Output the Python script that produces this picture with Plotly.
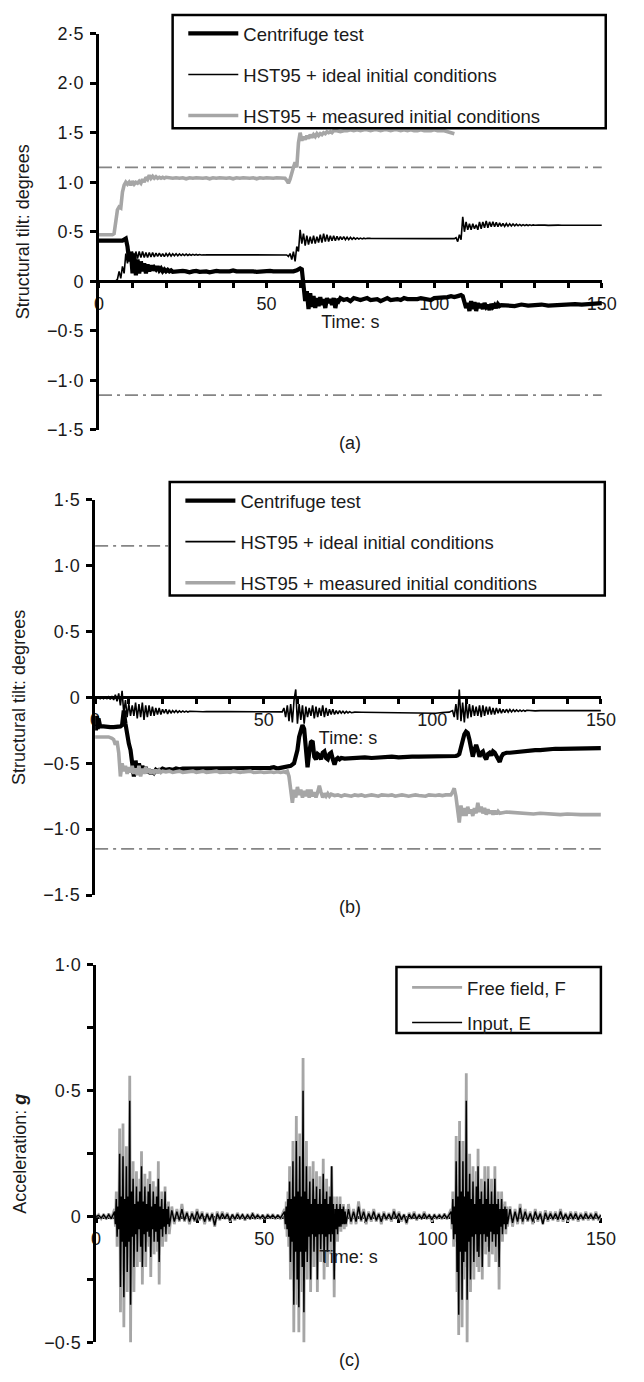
import plotly.graph_objects as go

W, H = 644, 1382
FONT = "Liberation Sans, Arial, Helvetica, sans-serif"
INK = "#1a1a1a"
GREY = "#a6a6a6"
LIMIT_GREY = "#858585"

# ---------------------------------------------------------------- tick data
X_RANGE = [0, 150]
X_TICKS = [0, 50, 100, 150]
X_TICK_TEXT = ["0", "50", "100", "150"]
X_MINOR = [10, 20, 30, 40, 60, 70, 80, 90, 110, 120, 130, 140]

TILT_A_TICKS = [2.5, 2.0, 1.5, 1.0, 0.5, 0, -0.5, -1.0, -1.5]
TILT_A_TEXT = ["2·5", "2·0", "1·5", "1·0", "0·5", "0", "−0·5", "−1·0", "−1·5"]
TILT_B_TICKS = [1.5, 1.0, 0.5, 0, -0.5, -1.0, -1.5]
TILT_B_TEXT = ["1·5", "1·0", "0·5", "0", "−0·5", "−1·0", "−1·5"]
ACC_TICKS = [1.0, 0.5, 0, -0.5]
ACC_TEXT = ["1·0", "0·5", "0", "−0·5"]
ACC_MINOR = [0.75, 0.25, -0.25]

TILT_LIMIT = 1.15  # serviceability limit, degrees

# ------------------------------------------------ time histories
# each series: list of (start time [s], sample step [s], values)

# (a) structural tilt, degrees
A_CENTRIFUGE = [
    (0.0, 1.0, [0.41, 0.41, 0.41, 0.41, 0.41, 0.405, 0.40, 0.41, 0.43]),
    (8.5, 0.5, [0.35, 0.2, 0.3, 0.08, 0.28, 0.06, 0.22, 0.08, 0.2, 0.1, 0.18, 0.08, 0.17, 0.1,
                0.16, 0.11, 0.14, 0.12, 0.15, 0.11, 0.13, 0.1, 0.12, 0.1, 0.115, 0.1, 0.11, 0.095]),
    (23.0, 1.0, [0.1, 0.095, 0.105, 0.1, 0.09, 0.1, 0.105, 0.095, 0.1, 0.1, 0.09, 0.1, 0.105,
                 0.1, 0.095, 0.1, 0.1, 0.11, 0.1, 0.095, 0.1, 0.1, 0.105, 0.1, 0.095, 0.1, 0.1,
                 0.1, 0.105, 0.1, 0.1, 0.095, 0.1, 0.1, 0.1, 0.1, 0.11]),
    (60.0, 0.5, [0.13, 0.12, -0.05, -0.2, -0.1, -0.28, -0.12, -0.26, -0.15, -0.27, -0.17, -0.25,
                 -0.16, -0.24, -0.18, -0.27, -0.17, -0.22, -0.18, -0.24, -0.17, -0.27, -0.18,
                 -0.2, -0.17]),
    (73.0, 1.0, [-0.19, -0.18, -0.2, -0.17, -0.18, -0.19, -0.18, -0.17, -0.19, -0.18, -0.18,
                 -0.2, -0.18, -0.17, -0.19, -0.18, -0.18, -0.19, -0.17, -0.18, -0.18, -0.19,
                 -0.18, -0.17, -0.18, -0.18, -0.19, -0.17, -0.17, -0.16, -0.17, -0.16, -0.15,
                 -0.16, -0.15]),
    (108.0, 0.5, [-0.14, -0.15, -0.2, -0.27, -0.22, -0.3, -0.2, -0.28, -0.21, -0.3, -0.22,
                  -0.27, -0.23, -0.28, -0.22, -0.26, -0.24, -0.29, -0.23, -0.26, -0.24, -0.27,
                  -0.23, -0.25, -0.24]),
    (122.0, 2.0, [-0.245, -0.25, -0.235, -0.245, -0.24, -0.235, -0.245, -0.24, -0.235, -0.24,
                  -0.23, -0.235, -0.23, -0.225, -0.22]),
]

A_IDEAL = [
    (0.0, 1.0, [0.0, 0.0, 0.0, 0.0, 0.0, 0.005]),
    (5.5, 0.5, [0.02, 0.1, 0.03, 0.15, 0.08, 0.28, 0.18, 0.32, 0.2, 0.3, 0.22, 0.3, 0.23, 0.3,
                0.24, 0.3, 0.24, 0.29, 0.24, 0.29, 0.245, 0.29, 0.245, 0.285, 0.25, 0.285, 0.25,
                0.28, 0.25, 0.28, 0.255, 0.28, 0.255, 0.278, 0.257, 0.277, 0.258, 0.276, 0.26,
                0.275, 0.26, 0.274, 0.261, 0.273, 0.262, 0.272, 0.263, 0.271, 0.264, 0.27,
                0.265, 0.269, 0.266, 0.268]),
    (33.0, 1.0, [0.268, 0.266, 0.268, 0.266, 0.267, 0.266, 0.267, 0.266, 0.267, 0.266, 0.267,
                 0.266, 0.266, 0.266, 0.266, 0.266, 0.266, 0.266, 0.266, 0.266, 0.266, 0.266,
                 0.265, 0.265]),
    (56.5, 0.5, [0.25, 0.28, 0.22, 0.3, 0.2, 0.35, 0.3, 0.52, 0.38, 0.48, 0.36, 0.46, 0.37,
                 0.45, 0.38, 0.46, 0.38, 0.45, 0.39, 0.47, 0.39, 0.48, 0.4, 0.47, 0.4, 0.46,
                 0.41, 0.46, 0.41, 0.455, 0.415, 0.45, 0.42, 0.45, 0.42, 0.445, 0.42, 0.443,
                 0.423, 0.44, 0.425, 0.438, 0.427, 0.436, 0.428, 0.435, 0.43, 0.434]),
    (81.0, 2.0, [0.433, 0.432, 0.432, 0.431, 0.432, 0.432, 0.431, 0.432, 0.432, 0.431, 0.432,
                 0.432, 0.432]),
    (106.0, 0.5, [0.43, 0.44, 0.4, 0.47, 0.42, 0.65, 0.5, 0.6, 0.52, 0.58, 0.52, 0.58, 0.53,
                  0.57, 0.52, 0.6, 0.53, 0.6, 0.54, 0.61, 0.54, 0.6, 0.55, 0.6, 0.55, 0.595,
                  0.55, 0.59, 0.555, 0.585, 0.555, 0.583, 0.557, 0.58, 0.558, 0.578, 0.56,
                  0.576, 0.56, 0.574, 0.561, 0.572, 0.562, 0.571, 0.563, 0.57, 0.564, 0.569,
                  0.565]),
    (131.0, 1.0, [0.568, 0.564, 0.567, 0.564, 0.567, 0.565, 0.567, 0.565, 0.566, 0.565, 0.566,
                  0.565, 0.566, 0.565, 0.566, 0.565, 0.566, 0.565, 0.566, 0.565]),
]

A_MEASURED = [
    (0.0, 1.0, [0.47, 0.47, 0.465, 0.47, 0.47]),
    (4.5, 0.5, [0.48, 0.6, 0.72, 0.75, 0.74, 0.9, 0.97, 1.0, 0.98, 1.0, 0.97, 1.01, 0.98, 1.0,
                0.99, 1.01, 0.99, 1.03, 1.0, 1.05, 1.03, 1.07, 1.04, 1.06, 1.04, 1.055, 1.04,
                1.05, 1.04, 1.05, 1.04, 1.05]),
    (21.0, 1.0, [1.045, 1.04, 1.045, 1.04, 1.045, 1.035, 1.045, 1.04, 1.045, 1.04, 1.04, 1.045,
                 1.035, 1.045, 1.04, 1.045, 1.04, 1.04, 1.045, 1.035, 1.045, 1.04, 1.045, 1.04,
                 1.04, 1.045, 1.035, 1.045, 1.04, 1.045, 1.04, 1.04, 1.045, 1.04, 1.04]),
    (55.5, 0.5, [1.04, 1.02, 0.99, 1.03, 1.1, 1.15, 1.2, 1.15, 1.4, 1.5, 1.42, 1.46, 1.43, 1.47,
                 1.44, 1.48, 1.45, 1.48, 1.46, 1.49, 1.47, 1.49, 1.48, 1.5, 1.49, 1.51, 1.5,
                 1.51, 1.5, 1.52]),
    (71.0, 1.0, [1.52, 1.51, 1.52, 1.52, 1.53, 1.52, 1.53, 1.52, 1.53, 1.53, 1.52, 1.53, 1.53,
                 1.52, 1.53, 1.53, 1.52, 1.53, 1.53, 1.52, 1.53, 1.52, 1.53, 1.52, 1.52, 1.53,
                 1.52, 1.52, 1.52, 1.53, 1.52, 1.52, 1.52, 1.51, 1.5, 1.49]),
]

# (b) structural tilt, degrees
B_CENTRIFUGE = [
    (0.0, 0.25, [-0.15, -0.25, -0.14, -0.24, -0.16, -0.22]),
    (1.5, 1.0, [-0.22, -0.22, -0.225, -0.225, -0.225, -0.225, -0.22]),
    (8.0, 0.5, [-0.21, -0.1, -0.2, -0.3, -0.35, -0.4, -0.5, -0.6, -0.48, -0.58, -0.5, -0.57,
                -0.52, -0.56, -0.53, -0.57, -0.55, -0.58, -0.55, -0.57, -0.55, -0.56, -0.55,
                -0.55, -0.54]),
    (21.0, 1.0, [-0.55, -0.545, -0.55, -0.54, -0.545, -0.54, -0.54, -0.535, -0.54, -0.535,
                 -0.54, -0.535, -0.54, -0.54, -0.535, -0.54, -0.54, -0.535, -0.54, -0.54,
                 -0.535, -0.54, -0.54, -0.535, -0.54, -0.54, -0.535, -0.54, -0.54, -0.535,
                 -0.54, -0.535, -0.53, -0.54, -0.535, -0.53, -0.53, -0.52, -0.5]),
    (59.5, 0.5, [-0.45, -0.4, -0.3, -0.25, -0.21, -0.24, -0.4, -0.53, -0.42, -0.34, -0.33,
                 -0.45, -0.47, -0.43, -0.44, -0.47, -0.42, -0.41, -0.46, -0.47, -0.43, -0.42,
                 -0.47, -0.51, -0.47, -0.46, -0.47, -0.46]),
    (74.0, 2.0, [-0.465, -0.46, -0.46, -0.455, -0.46, -0.455, -0.455, -0.45, -0.455, -0.45,
                 -0.45, -0.45, -0.45, -0.445, -0.45, -0.445, -0.445]),
    (107.0, 0.5, [-0.445, -0.44, -0.43, -0.38, -0.32, -0.28, -0.26, -0.27, -0.32, -0.4, -0.45,
                  -0.4, -0.36, -0.4, -0.45, -0.42, -0.41, -0.45, -0.47, -0.43, -0.42, -0.44,
                  -0.41, -0.42, -0.44, -0.47, -0.49, -0.45, -0.43, -0.425, -0.42]),
    (123.0, 1.5, [-0.42, -0.415, -0.41, -0.41, -0.405, -0.4, -0.4, -0.395, -0.395, -0.39,
                  -0.39, -0.39, -0.385, -0.39, -0.385, -0.385, -0.385, -0.385, -0.385]),
]

B_IDEAL = [
    (0.0, 0.5, [0.0, -0.005, 0.0, -0.01, 0.0, -0.01, 0.0, -0.01, 0.005, -0.015, 0.01, -0.02,
                0.02, -0.03, 0.03, -0.06, 0.05, -0.12, -0.02, -0.15, -0.05, -0.14]),
    (11.0, 0.5, [-0.06, -0.14, -0.04, -0.16, -0.05, -0.15, -0.04, -0.17, -0.06, -0.15, -0.06,
                 -0.14, -0.07, -0.14, -0.08, -0.13, -0.08, -0.13, -0.09, -0.12, -0.09, -0.125,
                 -0.095, -0.12, -0.1, -0.115, -0.1, -0.115, -0.102, -0.113, -0.103, -0.112,
                 -0.104, -0.111, -0.105]),
    (29.0, 1.0, [-0.107, -0.109, -0.107, -0.109, -0.108, -0.109, -0.108, -0.109, -0.108,
                 -0.108, -0.108, -0.108, -0.108, -0.108, -0.108, -0.109, -0.109, -0.109,
                 -0.109, -0.109, -0.11, -0.11, -0.11, -0.11, -0.11, -0.11, -0.11]),
    (55.5, 0.5, [-0.11, -0.08, -0.15, -0.06, -0.18, -0.05, -0.19, -0.02, 0.06, -0.2, -0.05,
                 -0.17, -0.06, -0.2, -0.07, -0.15, -0.08, -0.14, -0.06, -0.16, -0.07, -0.15,
                 -0.08, -0.14, -0.06, -0.15, -0.08, -0.14, -0.09, -0.13, -0.09, -0.13, -0.1,
                 -0.125, -0.1, -0.12, -0.105, -0.12, -0.106, -0.118, -0.108, -0.116]),
    (77.0, 2.0, [-0.112, -0.113, -0.114, -0.115, -0.116, -0.117, -0.118, -0.119, -0.12, -0.12,
                 -0.12, -0.12, -0.12, -0.115, -0.112]),
    (106.0, 0.5, [-0.1, -0.15, -0.05, -0.17, 0.06, -0.18, -0.04, -0.19, -0.03, -0.16, -0.05,
                  -0.15, -0.06, -0.14, -0.07, -0.14, -0.06, -0.15, -0.06, -0.14, -0.07, -0.13,
                  -0.07, -0.13, -0.08, -0.13, -0.08, -0.12, -0.085, -0.12, -0.09, -0.115,
                  -0.09, -0.113, -0.092, -0.11, -0.094, -0.108, -0.095, -0.107, -0.096, -0.106,
                  -0.097, -0.105, -0.098]),
    (129.0, 1.5, [-0.1, -0.102, -0.1, -0.101, -0.1, -0.101, -0.1, -0.1, -0.1, -0.1, -0.1, -0.1,
                  -0.1, -0.1, -0.1]),
]

B_MEASURED = [
    (0.0, 1.0, [-0.3, -0.3, -0.3, -0.305, -0.3, -0.31]),
    (5.5, 0.5, [-0.32, -0.36, -0.33, -0.42, -0.6, -0.5, -0.56, -0.52, -0.58, -0.53, -0.57,
                -0.52, -0.58, -0.54, -0.59, -0.52, -0.6, -0.54, -0.58, -0.53, -0.57, -0.54,
                -0.58, -0.55, -0.57, -0.55, -0.575, -0.555, -0.57, -0.56]),
    (21.0, 1.0, [-0.565, -0.56, -0.57, -0.565, -0.56, -0.57, -0.565, -0.565, -0.56, -0.57,
                 -0.565, -0.56, -0.57, -0.565, -0.565, -0.56, -0.57, -0.565, -0.565, -0.57,
                 -0.56, -0.565, -0.57, -0.565, -0.565, -0.56, -0.57, -0.565, -0.565, -0.57,
                 -0.565, -0.565, -0.57, -0.565, -0.57, -0.565]),
    (56.5, 0.5, [-0.57, -0.56, -0.6, -0.7, -0.8, -0.7, -0.76, -0.68, -0.74, -0.7, -0.76, -0.71,
                 -0.75, -0.7, -0.76, -0.7, -0.75, -0.72, -0.76, -0.72, -0.67, -0.72, -0.76,
                 -0.73, -0.75, -0.73, -0.75, -0.735]),
    (71.0, 1.0, [-0.745, -0.74, -0.75, -0.74, -0.745, -0.75, -0.74, -0.745, -0.74, -0.75,
                 -0.745, -0.74, -0.745, -0.75, -0.74, -0.745, -0.745, -0.74, -0.75, -0.745,
                 -0.74, -0.745, -0.75, -0.745, -0.74, -0.745, -0.745, -0.75, -0.74, -0.745,
                 -0.745, -0.74, -0.745, -0.74, -0.74]),
    (105.5, 0.5, [-0.74, -0.72, -0.69, -0.75, -0.83, -0.95, -0.82, -0.9, -0.84, -0.9, -0.83,
                  -0.88, -0.85, -0.9, -0.84, -0.88, -0.8, -0.87, -0.83, -0.88, -0.84, -0.89,
                  -0.85, -0.88, -0.86, -0.89, -0.86, -0.885, -0.865, -0.88]),
    (122.0, 2.0, [-0.87, -0.875, -0.88, -0.88, -0.885, -0.88, -0.885, -0.885, -0.89, -0.885,
                  -0.89, -0.89, -0.89, -0.89, -0.89]),
]

# (c) acceleration, g
FREE_FIELD = [
    (0.0, 0.75, [0.0, 0.008, -0.008, 0.01, -0.01, 0.012, -0.01, 0.015]),
    (5.5, 0.25, [0.03, -0.04, 0.1, -0.12, 0.06, -0.08, 0.35, -0.38, 0.12, -0.15, 0.37, -0.44,
                 0.1, -0.2, 0.28, -0.3, 0.12, -0.15, 0.56, -0.5, 0.15, -0.12, 0.22, -0.3,
                 0.08, -0.1, 0.18, -0.2, 0.1, -0.08, 0.15, -0.18, 0.26, -0.27, 0.1, -0.1,
                 0.17, -0.2, 0.08, -0.1, 0.15, -0.12, 0.18, -0.24, 0.07, -0.08, 0.14, -0.15,
                 0.08, -0.1, 0.12, -0.14, 0.22, -0.27, 0.06, -0.08, 0.1, -0.12, 0.05, -0.06,
                 0.12, -0.1, 0.05, -0.05, 0.06, -0.07]),
    (22.5, 0.75, [0.04, -0.03, 0.03, -0.02, 0.05, -0.02, 0.02, -0.03, 0.02, -0.02, 0.03, -0.015,
                  0.02, -0.03, 0.015, -0.02, 0.015, -0.04, 0.02, -0.015, 0.02, -0.01, 0.015,
                  -0.02, 0.01, -0.015, 0.015, -0.01, 0.01, -0.015, 0.01, -0.01, 0.015, -0.01,
                  0.01, -0.01, 0.008, -0.01, 0.01, -0.008, 0.01, -0.01, 0.008, -0.01, 0.015]),
    (56.0, 0.25, [0.03, -0.05, 0.06, -0.08, 0.1, -0.12, 0.2, -0.25, 0.1, -0.15, 0.3, -0.46,
                  0.12, -0.2, 0.4, -0.35, 0.15, -0.46, 0.33, -0.2, 0.12, -0.3, 0.63, -0.5,
                  0.15, -0.2, 0.3, -0.25, 0.1, -0.12, 0.2, -0.3, 0.08, -0.1, 0.22, -0.2,
                  0.1, -0.12, 0.18, -0.3, 0.07, -0.1, 0.16, -0.18, 0.08, -0.1, 0.23, -0.25,
                  0.1, -0.12, 0.15, -0.2, 0.08, -0.1, 0.12, -0.15, 0.2, -0.1, 0.08, -0.32,
                  0.05, -0.08, 0.08, -0.1, 0.04, -0.05, 0.08, -0.06, 0.04, -0.04, 0.05, -0.05,
                  0.03, -0.04]),
    (75.0, 0.75, [0.05, -0.03, 0.03, -0.03, 0.06, -0.02, 0.03, -0.03, 0.02, -0.02, 0.03, -0.02,
                  0.015, -0.03, 0.02, -0.015, 0.015, -0.02, 0.03, -0.01, 0.02, -0.02, 0.01,
                  -0.03, 0.015, -0.01, 0.02, -0.015, 0.01, -0.01, 0.02, -0.01, 0.01, -0.02,
                  0.01, -0.01, 0.01, -0.01, 0.012, -0.01]),
    (105.5, 0.25, [0.03, -0.05, 0.1, -0.12, 0.06, -0.1, 0.32, -0.3, 0.12, -0.47, 0.38, -0.2,
                   0.15, -0.44, 0.3, -0.25, 0.12, -0.2, 0.57, -0.5, 0.15, -0.15, 0.25, -0.3,
                   0.1, -0.12, 0.2, -0.25, 0.08, -0.1, 0.18, -0.2, 0.27, -0.22, 0.1, -0.1,
                   0.15, -0.25, 0.08, -0.1, 0.2, -0.15, 0.1, -0.12, 0.2, -0.2, 0.07, -0.08,
                   0.15, -0.15, 0.08, -0.1, 0.2, -0.18, 0.07, -0.1, 0.1, -0.29, 0.05, -0.06,
                   0.1, -0.1, 0.05, -0.05, 0.06, -0.07, 0.04, -0.04]),
    (123.0, 0.75, [0.04, -0.04, 0.03, -0.03, 0.05, -0.03, 0.03, -0.02, 0.02, -0.03, 0.03, -0.02,
                   0.02, -0.03, 0.025, -0.02, 0.02, -0.015, 0.02, -0.02, 0.03, -0.02, 0.015,
                   -0.02, 0.02, -0.015, 0.02, -0.02, 0.015, -0.015, 0.02, -0.015, 0.015, -0.015,
                   0.02, -0.015, 0.01]),
]

INPUT_E = [
    (0.0, 0.75, [0.0, 0.005, -0.006, 0.007, -0.007, 0.008, -0.008, 0.01]),
    (5.5, 0.25, [0.02, -0.03, 0.07, -0.08, 0.04, -0.05, 0.25, -0.28, 0.08, -0.1, 0.24, -0.32,
                 0.07, -0.12, 0.2, -0.22, 0.08, -0.1, 0.46, -0.35, 0.1, -0.08, 0.15, -0.2,
                 0.05, -0.07, 0.12, -0.14, 0.06, -0.05, 0.1, -0.12, 0.2, -0.2, 0.06, -0.07,
                 0.12, -0.14, 0.05, -0.06, 0.1, -0.08, 0.13, -0.16, 0.04, -0.05, 0.1, -0.1,
                 0.05, -0.06, 0.08, -0.1, 0.15, -0.18, 0.04, -0.05, 0.07, -0.08, 0.03, -0.04,
                 0.1, -0.07, 0.03, -0.03, 0.04, -0.04]),
    (22.5, 0.75, [0.025, -0.02, 0.02, -0.015, 0.03, -0.015, 0.015, -0.02, 0.012, -0.015, 0.02,
                  -0.01, 0.012, -0.02, 0.01, -0.015, 0.01, -0.035, 0.012, -0.01, 0.012, -0.008,
                  0.01, -0.015, 0.008, -0.01, 0.01, -0.008, 0.008, -0.01, 0.006, -0.008, 0.01,
                  -0.006, 0.006, -0.006, 0.005, -0.008, 0.006, -0.005, 0.006, -0.006, 0.005,
                  -0.006, 0.008]),
    (56.0, 0.25, [0.02, -0.03, 0.04, -0.05, 0.07, -0.08, 0.14, -0.18, 0.07, -0.1, 0.22, -0.35,
                  0.08, -0.14, 0.3, -0.25, 0.1, -0.36, 0.24, -0.14, 0.08, -0.2, 0.5, -0.38,
                  0.1, -0.14, 0.2, -0.18, 0.07, -0.08, 0.14, -0.25, 0.05, -0.07, 0.15, -0.14,
                  0.07, -0.08, 0.12, -0.25, 0.05, -0.07, 0.11, -0.13, 0.05, -0.07, 0.17, -0.18,
                  0.07, -0.08, 0.1, -0.14, 0.05, -0.07, 0.08, -0.1, 0.2, -0.07, 0.05, -0.25,
                  0.03, -0.05, 0.05, -0.07, 0.03, -0.04, 0.05, -0.04, 0.03, -0.03, 0.04, -0.03,
                  0.02, -0.03]),
    (75.0, 0.75, [0.03, -0.02, 0.02, -0.02, 0.04, -0.015, 0.02, -0.02, 0.012, -0.012, 0.02,
                  -0.015, 0.01, -0.02, 0.012, -0.01, 0.01, -0.012, 0.02, -0.008, 0.012, -0.012,
                  0.008, -0.025, 0.01, -0.008, 0.012, -0.01, 0.006, -0.008, 0.012, -0.006,
                  0.006, -0.012, 0.006, -0.006, 0.006, -0.006, 0.008, -0.006]),
    (105.5, 0.25, [0.02, -0.03, 0.07, -0.09, 0.04, -0.07, 0.22, -0.22, 0.08, -0.39, 0.3, -0.14,
                   0.1, -0.33, 0.22, -0.18, 0.08, -0.14, 0.46, -0.33, 0.1, -0.1, 0.17, -0.25,
                   0.07, -0.08, 0.14, -0.18, 0.05, -0.07, 0.12, -0.14, 0.2, -0.16, 0.07, -0.07,
                   0.1, -0.2, 0.05, -0.07, 0.14, -0.1, 0.07, -0.08, 0.15, -0.14, 0.05, -0.06,
                   0.1, -0.1, 0.05, -0.07, 0.15, -0.12, 0.05, -0.07, 0.07, -0.2, 0.03, -0.04,
                   0.07, -0.07, 0.03, -0.03, 0.04, -0.05, 0.03, -0.03]),
    (123.0, 0.75, [0.03, -0.025, 0.02, -0.02, 0.035, -0.02, 0.02, -0.015, 0.012, -0.02, 0.02,
                   -0.012, 0.012, -0.03, 0.015, -0.012, 0.012, -0.01, 0.012, -0.012, 0.02,
                   -0.012, 0.01, -0.012, 0.012, -0.01, 0.012, -0.012, 0.008, -0.01, 0.012,
                   -0.008, 0.008, -0.01, 0.012, -0.008, 0.006]),
]


def expand(segments):
    """Turn (start, step, values) segments into time / value lists."""
    t, v = [], []
    for start, step, vals in segments:
        for i, val in enumerate(vals):
            t.append(round(start + i * step, 4))
            v.append(val)
    return t, v


# ------------------------------------------------ panel geometry (pixels)
PANELS = {
    "a": dict(left=97, right=616, top=24, bottom=426, yrange=[-1.5, 2.5]),
    "b": dict(left=93, right=615, top=497, bottom=898, yrange=[-1.5, 1.5]),
    "c": dict(left=94, right=615, top=969, bottom=1352, yrange=[-0.5, 1.0]),
}


def xdom(p):
    return [p["left"] / W, p["right"] / W]


def ydom(p):
    return [1 - p["bottom"] / H, 1 - p["top"] / H]


def zero_pos(p):
    d0, d1 = ydom(p)
    r0, r1 = p["yrange"]
    return d0 + (0 - r0) / (r1 - r0) * (d1 - d0)


tick_font = dict(family=FONT, size=18, color=INK)
title_font = dict(family=FONT, size=18, color=INK)


def x_axis(p):
    return dict(
        domain=xdom(p), range=X_RANGE, anchor="free", position=zero_pos(p),
        showline=True, linecolor="black", linewidth=2.5, showgrid=False, zeroline=False,
        tickmode="array", tickvals=X_TICKS, ticktext=X_TICK_TEXT,
        ticks="outside", ticklen=5, tickwidth=2.5, tickcolor="black",
        minor=dict(tickmode="array", tickvals=X_MINOR, ticks="outside", ticklen=5,
                   tickwidth=2.5, tickcolor="black"),
        tickfont=tick_font, layer="below traces",
        title=dict(text="Time: s", font=title_font, standoff=2),
    )


def y_axis(p, ticks, text, title, xname):
    return dict(
        domain=ydom(p), range=p["yrange"], anchor=xname,
        showline=True, linecolor="black", linewidth=2.5, showgrid=False, zeroline=False,
        tickmode="array", tickvals=ticks, ticktext=text,
        ticks="outside", ticklen=6, tickwidth=2.5, tickcolor="black",
        tickfont=tick_font, ticklabelstandoff=3,
        title=dict(text=title, font=title_font, standoff=13),
    )


fig = go.Figure()


def add_line(segments, name, xa, ya, color, width, legend, show=True):
    t, v = expand(segments)
    fig.add_trace(go.Scatter(
        x=t, y=v, mode="lines", name=name, xaxis=xa, yaxis=ya,
        line=dict(color=color, width=width), legend=legend, legendgroup=legend + name,
        showlegend=show, hoverinfo="skip",
    ))


def add_limits(xa, ya, legend):
    for level in (TILT_LIMIT, -TILT_LIMIT):
        fig.add_trace(go.Scatter(
            x=X_RANGE, y=[level, level], mode="lines", xaxis=xa, yaxis=ya,
            line=dict(color=LIMIT_GREY, width=1.8, dash="13px,5px,3px,5px"),
            showlegend=False, hoverinfo="skip", legend=legend,
        ))


# panel (a)
add_limits("x", "y", "legend")
add_line(A_CENTRIFUGE, "Centrifuge test", "x", "y", "black", 4.2, "legend")
add_line(A_IDEAL, "HST95 + ideal initial conditions", "x", "y", "black", 1.6, "legend")
add_line(A_MEASURED, "HST95 + measured initial conditions", "x", "y", GREY, 3.6, "legend")

# panel (b)
add_limits("x2", "y2", "legend2")
add_line(B_CENTRIFUGE, "Centrifuge test", "x2", "y2", "black", 4.2, "legend2")
add_line(B_IDEAL, "HST95 + ideal initial conditions", "x2", "y2", "black", 1.6, "legend2")
add_line(B_MEASURED, "HST95 + measured initial conditions", "x2", "y2", GREY, 3.6, "legend2")

# panel (c)
add_line(FREE_FIELD, "Free field, F", "x3", "y3", GREY, 2.8, "legend3")
add_line(INPUT_E, "Input, E", "x3", "y3", "black", 1.5, "legend3")

pa, pb, pc = PANELS["a"], PANELS["b"], PANELS["c"]


def legend_cfg(left, top, gap):
    return dict(
        x=left / W, y=1 - top / H, xanchor="left", yanchor="top",
        bgcolor="rgba(0,0,0,0)", borderwidth=0, font=dict(family=FONT, size=18.5, color=INK),
        itemwidth=50, traceorder="grouped", tracegroupgap=gap, itemclick=False,
    )


def frame(left, right, top, bottom):
    return dict(type="rect", xref="paper", yref="paper", layer="above",
                x0=left / W, x1=right / W, y0=1 - bottom / H, y1=1 - top / H,
                line=dict(color="black", width=2.5), fillcolor="white")


def caption(text, ycenter):
    return dict(text=text, xref="paper", yref="paper", x=356 / W, y=1 - ycenter / H,
                xanchor="center", yanchor="middle", showarrow=False,
                font=dict(family=FONT, size=18, color=INK))


fig.update_layout(
    width=W, height=H, margin=dict(l=0, r=0, t=0, b=0),
    paper_bgcolor="white", plot_bgcolor="rgba(0,0,0,0)",
    font=dict(family=FONT, size=18, color=INK),
    xaxis=x_axis(pa), xaxis2=x_axis(pb), xaxis3=x_axis(pc),
    yaxis=y_axis(pa, TILT_A_TICKS, TILT_A_TEXT, "Structural tilt: degrees", "x"),
    yaxis2=y_axis(pb, TILT_B_TICKS, TILT_B_TEXT, "Structural tilt: degrees", "x2"),
    yaxis3=y_axis(pc, ACC_TICKS, ACC_TEXT, "Acceleration: <b><i>g</i></b>", "x3"),
    legend=legend_cfg(184, 5, 14),
    legend2=legend_cfg(181, 479, 14),
    legend3=legend_cfg(415, 973, 8),
    shapes=[frame(173, 620, 5, 120), frame(170, 619, 479, 594), frame(404, 615, 971, 1038)],
    annotations=[caption("(a)", 439), caption("(b)", 910), caption("(c)", 1370)],
    showlegend=True,
)
fig.update_yaxes(minor=dict(tickmode="array", tickvals=ACC_MINOR, ticks="outside", ticklen=6,
                            tickwidth=2.5, tickcolor="black"), selector=dict(anchor="x3"))

fig.write_html("out.html")
